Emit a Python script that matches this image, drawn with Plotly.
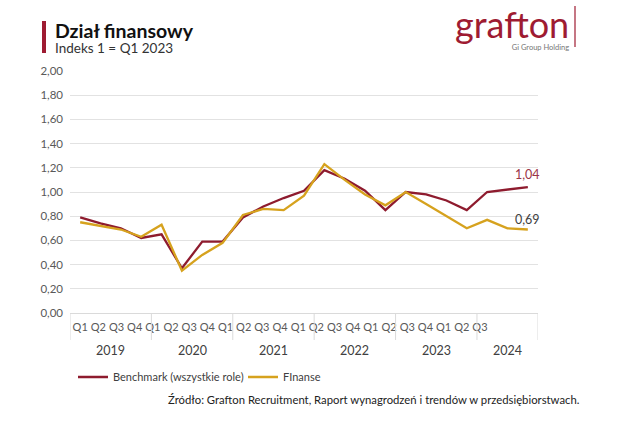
import plotly.graph_objects as go

# ---------------- data ----------------
years = ["2019", "2020", "2021", "2022", "2023", "2024"]
quarters_per_year = [4, 4, 4, 4, 4, 3]
quarter_labels = ["Q1", "Q2", "Q3", "Q4"] * 5 + ["Q1", "Q2", "Q3"]
benchmark = [0.79, 0.74, 0.70, 0.62, 0.65, 0.37, 0.59, 0.59,
             0.79, 0.88, 0.95, 1.01, 1.18, 1.11, 1.01, 0.85,
             1.00, 0.98, 0.93, 0.85, 1.00, 1.02, 1.04]
finanse = [0.75, 0.72, 0.69, 0.63, 0.73, 0.35, 0.48, 0.58,
           0.81, 0.86, 0.85, 0.97, 1.23, 1.10, 0.98, 0.89,
           1.00, 0.90, 0.80, 0.70, 0.77, 0.70, 0.69]
y_ticks = [0.0, 0.2, 0.4, 0.6, 0.8, 1.0, 1.2, 1.4, 1.6, 1.8, 2.0]
series_names = ["Benchmark (wszystkie role)", "FInanse"]
title = "Dział finansowy"
subtitle = "Indeks 1 = Q1 2023"
logo = "grafton"
logo_sub = "Gi Group Holding"
source = "Źródło: Grafton Recruitment, Raport wynagrodzeń i trendów w przedsiębiorstwach."

# ---------------- style ----------------
OFF = 0  # body margin removed below
W, H = 640 - OFF, 422 - OFF
# plot area in window pixels: x 70..538, y 71..313
X0, X1, Y0, Y1 = 70, 538, 71, 313
ML, MR, MT, MB = X0 - OFF, W - (X1 - OFF), Y0 - OFF, H - (Y1 - OFF)
PW, PH = X1 - X0, Y1 - Y0
RED = "#8E1B2E"
GOLD = "#D6A21E"
TXT = "#404040"
GRID = "#E2E2E2"
FONT = "Lato"


def px(x):
    return (x - X0) / PW


def py(y):
    return (Y1 - y) / PH


idx = list(range(len(quarter_labels)))

fig = go.Figure()
fig.add_trace(go.Scatter(x=idx, y=benchmark, mode="lines", name=series_names[0],
                         line=dict(color=RED, width=2.3)))
fig.add_trace(go.Scatter(x=idx, y=finanse, mode="lines", name=series_names[1],
                         line=dict(color=GOLD, width=2.3)))

# year groups
starts = []
s = 0
for c in quarters_per_year:
    starts.append(s)
    s += c
boundaries = [st - 0.5 for st in starts] + [s - 0.5]
shapes = []
for b in boundaries:
    shapes.append(dict(type="line", xref="x", yref="paper", x0=b, x1=b,
                       y0=0, y1=py(340), line=dict(color="#DADADA", width=1)))
# title bar
shapes.append(dict(type="rect", xref="paper", yref="paper", x0=px(42), x1=px(46),
                   y0=py(53), y1=py(21), fillcolor="#9E1B32", line=dict(width=0)))
# logo bar
shapes.append(dict(type="line", xref="paper", yref="paper", x0=px(575), x1=px(575),
                   y0=py(47), y1=py(6), line=dict(color="#9E1B32", width=1.2)))

annotations = []
for yr, st, c in zip(years, starts, quarters_per_year):
    annotations.append(dict(x=st + (c - 1) / 2, xref="x", y=py(350), yref="paper",
                            text=yr, showarrow=False, font=dict(size=12.5, color=TXT, family=FONT),
                            xanchor="center", yanchor="middle"))

# end labels
annotations.append(dict(x=idx[-1], y=benchmark[-1], xref="x", yref="y",
                        text=f"{benchmark[-1]:.2f}".replace(".", ","), showarrow=False,
                        yshift=13, font=dict(size=12.5, color="#9B3446", family=FONT)))
annotations.append(dict(x=idx[-1], y=finanse[-1], xref="x", yref="y",
                        text=f"{finanse[-1]:.2f}".replace(".", ","), showarrow=False,
                        yshift=10, font=dict(size=12.5, color=TXT, family=FONT)))

# title + subtitle (one block)
annotations.append(dict(
    x=px(53), y=py(17), xref="paper", yref="paper",
    text=(f"<span style='font-size:19.5px;font-weight:900;color:#111111'><b>{title}</b></span>"
          f"<br><span style='font-size:13.5px;color:#333333'>{subtitle}</span>"),
    showarrow=False, xanchor="left", yanchor="top", align="left",
    font=dict(size=11.5, color="#333333", family=FONT)))
# logo block
annotations.append(dict(
    x=px(571), y=py(0.5), xref="paper", yref="paper",
    text=(f"<span style='font-size:36px;color:#9E1B32'>{logo}</span>"
          f"<br><span style='font-size:7.5px;color:#777777'>{logo_sub}</span>"),
    showarrow=False, xanchor="right", yanchor="top", align="right",
    font=dict(size=9, color="#777777", family=FONT)))
# source
annotations.append(dict(x=px(582), y=py(399), xref="paper", yref="paper", text=source,
                        showarrow=False, xanchor="right", yanchor="middle",
                        font=dict(size=11.3, color="#222222", family=FONT)))

squeeze = 0.893
fig.update_layout(
    width=W, height=H,
    margin=dict(l=ML, r=MR, t=MT, b=MB),
    paper_bgcolor="white", plot_bgcolor="white",
    separators=", ",
    font=dict(family=FONT, color=TXT),
    xaxis=dict(range=[-0.5, len(idx) - 0.5], tickvals=[i * squeeze for i in idx],
               ticktext=quarter_labels, showgrid=False, zeroline=False,
               showline=True, linecolor="#DADADA", linewidth=1, ticks="",
               tickfont=dict(size=11, color="#595959", family=FONT), ticklabelstandoff=4,
               fixedrange=True),
    yaxis=dict(range=[0, 2.0], tickvals=y_ticks, tickformat=".2f", gridcolor=GRID,
               gridwidth=1, zeroline=False, showline=False, ticks="",
               tickfont=dict(size=11.5, color="#595959", family=FONT),
               ticklabelstandoff=6, fixedrange=True),
    legend=dict(orientation="h", x=px(73), y=py(377), xanchor="left", yanchor="middle",
                font=dict(size=11, color=TXT, family=FONT), bgcolor="rgba(0,0,0,0)",
                itemwidth=30, entrywidth=125),
    shapes=shapes,
    annotations=annotations,
    showlegend=True,
)

fig.write_html("out.html", config={"displayModeBar": False},
               post_script="document.body.style.margin='0';")
